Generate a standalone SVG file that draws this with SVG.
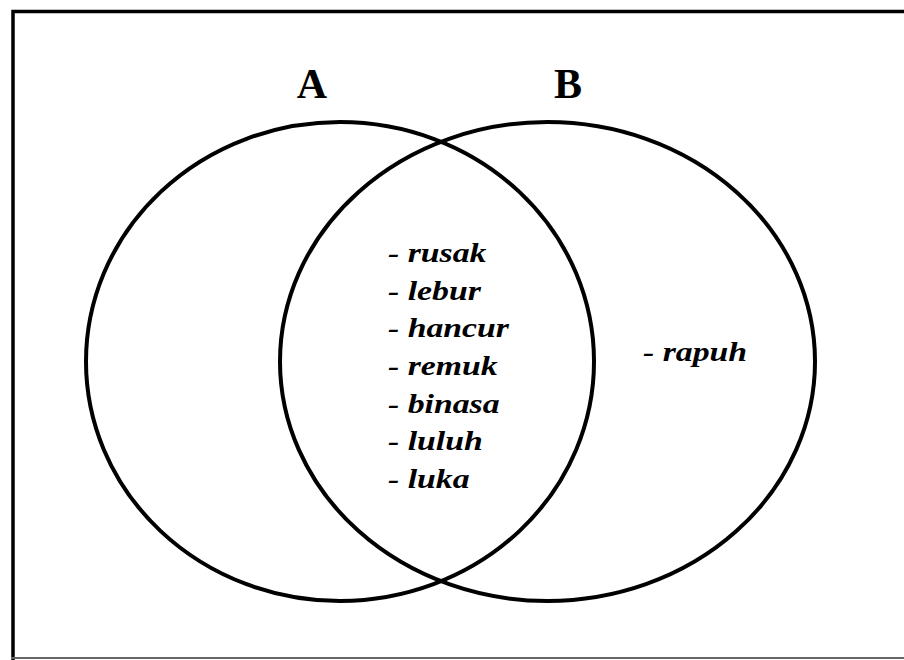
<svg xmlns="http://www.w3.org/2000/svg" width="904" height="660" viewBox="0 0 904 660">
  <style>
    .set { fill: none; stroke: #000; stroke-width: 4; }
    .title { font-family: "Liberation Serif", "Times New Roman", serif; font-weight: bold; font-size: 42px; fill: #000; text-anchor: middle; }
    .item { font-family: "Liberation Serif", "Times New Roman", serif; font-weight: bold; font-style: italic; font-size: 27px; fill: #000; }
  </style>
  <rect x="0" y="0" width="904" height="660" fill="#fff"/>

  <!-- frame -->
  <g id="frame" fill="none">
    <path d="M13 660 V11.5 H904" stroke="#000" stroke-width="3.5"/>
    <line x1="11" y1="658" x2="904" y2="658" stroke="#666" stroke-width="2"/>
  </g>

  <!-- set A -->
  <g id="setA">
    <ellipse class="set" cx="340" cy="361.5" rx="254" ry="239.5"/>
    <text class="title" x="312" y="98">A</text>
  </g>

  <!-- set B -->
  <g id="setB">
    <ellipse class="set" cx="547.5" cy="361.5" rx="267.5" ry="239.5"/>
    <text class="title" x="568" y="98">B</text>
  </g>

  <!-- words shared by A and B -->
  <g id="intersection" transform="translate(388 0) scale(1.25 1)">
    <text class="item" x="0" y="262">- rusak</text>
    <text class="item" x="0" y="299.7">- lebur</text>
    <text class="item" x="0" y="337.3">- hancur</text>
    <text class="item" x="0" y="375">- remuk</text>
    <text class="item" x="0" y="412.7">- binasa</text>
    <text class="item" x="0" y="450.3">- luluh</text>
    <text class="item" x="0" y="488">- luka</text>
  </g>

  <!-- words only in B -->
  <g id="onlyB" transform="translate(643 0) scale(1.25 1)">
    <text class="item" x="0" y="361">- rapuh</text>
  </g>
</svg>
